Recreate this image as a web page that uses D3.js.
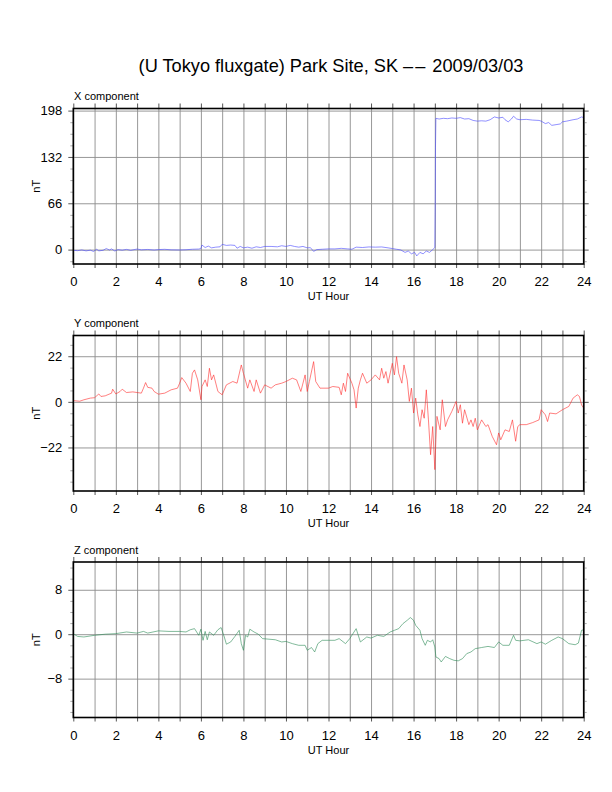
<!DOCTYPE html>
<html>
<head>
<meta charset="utf-8">
<script src="https://cdn.jsdelivr.net/npm/d3@7"></script>
<style>
  body { margin: 0; background: #fff; }
  svg { font-family: "Liberation Sans", Arial, sans-serif; }
</style>
</head>
<body>
<div id="graph"></div>
<script>
// Datos: [hora UT, nT]
const xComponent = [
  [0,-1],[0.2,-1.5],[0.4,-0.5],[0.6,-1.8],[0.8,-0.8],[0.95,-2.6],[1.1,0.5],[1.2,-1.8],[1.4,-1],[1.55,1.5],
  [1.7,-0.5],[1.8,1],[1.95,-2],[2.1,0],[2.3,-0.8],[2.5,0.3],[2.7,-1],[3.0,0.8],[3.2,-0.3],[3.5,0.2],
  [3.8,-0.6],[4.0,0],[4.3,0.4],[4.6,-0.3],[5.0,-0.5],[5.3,-0.2],[5.6,0.5],[5.9,0.8],[6.0,1.5],[6.05,6.5],
  [6.2,3],[6.35,5],[6.5,2.5],[6.7,3.5],[6.9,4],[7.0,7.5],[7.2,6],[7.4,6.5],[7.6,6],[7.7,2],
  [7.85,4.5],[8.0,2.5],[8.2,3.5],[8.4,2],[8.6,4],[8.8,3],[9.0,4.5],[9.3,4.5],[9.6,4],[9.8,5.5],
  [10.0,4.5],[10.2,6],[10.4,4.5],[10.6,3.5],[10.8,4.5],[11.0,2.5],[11.15,2.8],[11.3,-2.5],[11.45,0],[11.7,0.5],
  [12.0,1],[12.3,1],[12.6,1.8],[12.9,1],[13.1,0.5],[13.3,3.5],[13.6,3],[13.9,3.8],[14.2,3.5],[14.5,3.8],
  [14.8,2.5],[15.0,1.5],[15.2,0.5],[15.4,-0.5],[15.6,-4],[15.75,-2],[15.9,-6],[16.05,-4],[16.15,-9],[16.3,-4],
  [16.45,-6],[16.6,-2],[16.75,-4],[16.9,0],[17.0,3],[17.02,70],[17.03,145],[17.05,187],[17.2,186],[17.4,187],
  [17.6,186.5],[17.8,187.5],[18.0,187],[18.2,188],[18.4,186],[18.6,186.5],[18.8,184],[19.0,183],[19.2,183.5],[19.4,183],
  [19.6,185],[19.8,189],[20.0,187.5],[20.2,188.5],[20.3,185],[20.45,182],[20.6,186],[20.7,190],[20.85,186],[21.0,185],
  [21.3,185.5],[21.6,184.5],[21.9,184],[22.0,183],[22.2,179.5],[22.35,181],[22.5,177],[22.7,178],[22.9,179],[23.0,182],
  [23.2,183],[23.5,185],[23.7,186],[23.9,189],[24.0,188]
];

const yComponent = [
  [0,0.6],[0.3,0.3],[0.5,1],[0.8,1.8],[1.0,2],[1.2,3.8],[1.3,2.6],[1.5,2.9],[1.8,4.2],[1.85,6.1],
  [2.0,3.8],[2.2,5],[2.3,6.1],[2.5,4.5],[2.8,4.8],[3.0,4.5],[3.2,4.2],[3.3,6.6],[3.4,9.3],[3.5,7],
  [3.7,6.6],[3.8,5],[4.0,3.7],[4.3,4.2],[4.6,5.8],[4.9,6.6],[5.0,9],[5.1,11.7],[5.3,9],[5.5,5],
  [5.6,13.8],[5.7,15.4],[5.85,10.6],[6.0,1],[6.05,7.4],[6.2,10.6],[6.3,7.4],[6.4,16.2],[6.5,10.6],[6.6,13],
  [6.8,5],[7.0,3.4],[7.2,8.2],[7.5,9.8],[7.7,9],[7.9,17.8],[8.0,13.8],[8.2,6.6],[8.3,10.6],[8.5,5],
  [8.6,10.6],[8.8,4.2],[9.0,8.2],[9.3,6.6],[9.5,8.2],[9.8,9],[10.0,9.8],[10.3,11.4],[10.5,10.6],[10.7,5],
  [10.9,13],[11.0,5],[11.1,9.8],[11.3,19.4],[11.4,9.8],[11.6,6.6],[12.0,6.6],[12.2,7.4],[12.5,7],[12.6,3.4],
  [12.7,9],[12.8,5],[12.9,13.8],[13.1,9],[13.2,5.8],[13.3,-3],[13.4,6.6],[13.5,10.6],[13.6,13.8],[13.8,9],
  [14.0,10.6],[14.2,13],[14.4,10.6],[14.5,16.2],[14.6,11.4],[14.7,14.6],[14.8,9],[15.0,18.6],[15.1,13],[15.2,21.8],
  [15.3,13.8],[15.45,9],[15.55,17.8],[15.7,10.6],[15.8,0.2],[15.9,6.6],[16.0,-5.4],[16.1,1.8],[16.2,-6.3],[16.3,-11.9],
  [16.4,-3.8],[16.5,-7.9],[16.6,5.8],[16.7,-8.7],[16.8,-25.5],[16.9,-11.9],[17.0,-32.7],[17.05,-18.3],[17.1,-7],[17.25,-13.5],
  [17.35,1],[17.5,-11.9],[17.6,-8.7],[17.8,-4.6],[18.0,0.2],[18.1,-5.4],[18.2,-1.4],[18.3,-10.3],[18.4,-3.8],[18.6,-11],
  [18.7,-8.7],[18.8,-11.9],[18.9,-7.9],[19.0,-13.5],[19.2,-8.7],[19.4,-11.9],[19.5,-11],[19.7,-16.7],[19.9,-20.7],[20.0,-15],
  [20.1,-18.3],[20.3,-13.5],[20.5,-14.3],[20.65,-8.7],[20.8,-19],[20.9,-11.9],[21.0,-11],[21.3,-11],[21.6,-10],[21.9,-8.7],
  [22.0,-3.8],[22.2,-6.3],[22.3,-9.5],[22.4,-5.4],[22.7,-5.8],[23.0,-3.8],[23.3,-2.2],[23.5,1.8],[23.7,3.4],[23.8,2.6],
  [23.9,-1.5],[24.0,-3]
];

const zComponent = [
  [0,0.1],[0.2,-0.4],[0.5,-0.5],[1.0,-0.2],[1.5,0],[2.0,0.1],[2.5,0.4],[3.0,0.2],[3.3,0.5],[3.5,0.2],
  [4.0,0.6],[4.5,0.5],[5.0,0.5],[5.3,0.4],[5.5,0.8],[5.7,1.0],[5.9,-0.2],[6.0,0.9],[6.1,-1.1],[6.2,0.5],
  [6.3,-1.0],[6.4,0.4],[6.6,-0.2],[6.8,0.8],[6.95,1.2],[7.1,-0.5],[7.2,-1.8],[7.4,-1.4],[7.6,-0.4],[7.8,0.7],
  [7.9,-1.7],[8.0,-2.9],[8.1,-0.2],[8.2,-0.5],[8.3,0.9],[8.5,0.4],[8.7,0],[8.9,-0.8],[9.2,-0.9],[9.5,-1.0],
  [9.8,-1.4],[10.0,-1.3],[10.3,-1.7],[10.6,-2.0],[10.9,-2.0],[11.0,-2.9],[11.2,-2.4],[11.35,-3.2],[11.5,-1.7],[11.7,-1.1],
  [12.0,-1.1],[12.3,-1.1],[12.5,-0.8],[12.8,-1.7],[13.0,-0.8],[13.3,1.0],[13.5,-1.4],[13.8,-0.5],[14.0,-0.7],[14.3,-0.2],
  [14.6,-0.4],[14.9,0.4],[15.1,0.7],[15.3,1.0],[15.5,1.9],[15.7,2.5],[15.85,3.0],[16.0,2.5],[16.1,1.6],[16.3,0.7],
  [16.4,-0.8],[16.55,-2.0],[16.65,-1.1],[16.8,-1.4],[16.9,-1.0],[17.0,-2.3],[17.05,-4.1],[17.2,-4.4],[17.3,-5.0],[17.5,-4.0],
  [17.7,-4.4],[17.9,-4.7],[18.1,-4.8],[18.3,-4.4],[18.5,-3.5],[18.7,-3.2],[18.9,-2.6],[19.2,-2.4],[19.5,-2.2],[19.8,-2.4],
  [20.0,-1.4],[20.2,-2.0],[20.5,-2.0],[20.7,-0.2],[20.8,-1.1],[21.0,-1.2],[21.4,-1.0],[21.8,-1.7],[22.0,-1.4],[22.2,-1.8],
  [22.5,-1.1],[22.8,-0.5],[23.0,-0.8],[23.3,-1.7],[23.6,-1.9],[23.75,-1.6],[23.9,0.7],[24.0,0.8]
];

const titleParts = ["(U Tokyo fluxgate) Park Site, SK ", "––", " 2009/03/03"];
const componentNames = ["X component", "Y component", "Z component"];
const hourTicks = d3.range(0, 25);
const xMajors = [0, 66, 132, 198];
const yMajors = [-22, 0, 22];
const zMajors = [-8, 0, 8];
const xDomain = [-20.5, 201];
const yDomain = [-43, 32];
const zDomain = [-15, 13];

const width = 612, height = 792;
const left = 73.3, pw = 510.4, ph = 155.5;

const svg = d3.select("#graph").append("svg")
  .attr("width", width)
  .attr("height", height);
svg.append("rect").attr("width", width).attr("height", height).attr("fill", "#fff");

const title = svg.append("text")
  .attr("x", 331).attr("y", 71.5)
  .attr("text-anchor", "middle")
  .attr("font-size", 18.2);
titleParts.forEach((t, i) => {
  title.append("tspan").attr("letter-spacing", i === 1 ? 2 : null).text(t);
});

const x = d3.scaleLinear().domain([0, 24]).range([0, pw]);

const panels = [
  { name: componentNames[0], data: xComponent, domain: xDomain, majors: xMajors, minor: 16.5, color: "#4646ff", top: 108.5 },
  { name: componentNames[1], data: yComponent, domain: yDomain, majors: yMajors, minor: 5.5, color: "#ff2a2a", top: 335.5 },
  { name: componentNames[2], data: zComponent, domain: zDomain, majors: zMajors, minor: 2, color: "#2e8b57", top: 562 }
];

panels.forEach(p => {
  const y = d3.scaleLinear().domain(p.domain).range([ph, 0]);
  const minors = d3.range(Math.ceil(p.domain[0] / p.minor) * p.minor, p.domain[1], p.minor)
    .filter(v => !p.majors.includes(v));
  const g = svg.append("g").attr("transform", `translate(${left},${p.top})`);

  // rejilla
  g.append("g").attr("class", "grid")
    .call(d3.axisBottom(x).tickValues(hourTicks).tickSize(ph).tickFormat(""))
    .call(s => s.select(".domain").remove())
    .call(s => s.selectAll("line").attr("stroke", "#8c8c8c").attr("stroke-width", 0.9));
  g.append("g").attr("class", "grid")
    .call(d3.axisLeft(y).tickValues(p.majors).tickSize(-pw).tickFormat(""))
    .call(s => s.select(".domain").remove())
    .call(s => s.selectAll("line").attr("stroke", "#8c8c8c").attr("stroke-width", 0.9));

  // marcas menores
  [d3.axisLeft(y), d3.axisRight(y)].forEach((ax, i) => {
    g.append("g").attr("transform", `translate(${i ? pw : 0},0)`)
      .call(ax.tickValues(minors).tickSize(3).tickFormat(""))
      .call(s => s.select(".domain").remove())
      .call(s => s.selectAll("line").attr("stroke", "#aaa"));
  });

  // eje izquierdo con etiquetas
  g.append("g")
    .call(d3.axisLeft(y).tickValues(p.majors).tickSize(5).tickPadding(6))
    .call(s => s.select(".domain").remove())
    .call(s => s.selectAll("line").attr("stroke", "#555"))
    .call(s => s.selectAll("text").attr("font-size", 13).attr("font-family", "Liberation Sans").attr("fill", "#000"));
  g.append("g").attr("transform", `translate(${pw},0)`)
    .call(d3.axisRight(y).tickValues(p.majors).tickSize(5).tickFormat(""))
    .call(s => s.select(".domain").remove())
    .call(s => s.selectAll("line").attr("stroke", "#555"));

  // eje de horas
  g.append("g").attr("transform", `translate(0,${ph})`)
    .call(d3.axisBottom(x).tickValues(hourTicks).tickSize(4).tickPadding(8.8)
      .tickFormat(d => d % 2 === 0 ? d : ""))
    .call(s => s.select(".domain").remove())
    .call(s => s.selectAll("line").attr("stroke", "#555"))
    .call(s => s.selectAll("text").attr("font-size", 13).attr("font-family", "Liberation Sans").attr("fill", "#000"));
  g.append("g")
    .call(d3.axisTop(x).tickValues(hourTicks).tickSize(5).tickFormat(""))
    .call(s => s.select(".domain").remove())
    .call(s => s.selectAll("line").attr("stroke", "#555"));

  // serie
  const line = d3.line().x(d => x(d[0])).y(d => y(d[1]));
  g.append("path")
    .datum(p.data)
    .attr("d", line)
    .attr("fill", "none")
    .attr("stroke", p.color)
    .attr("stroke-width", 0.6);

  // marco
  g.append("rect")
    .attr("width", pw).attr("height", ph)
    .attr("fill", "none").attr("stroke", "#000").attr("stroke-width", 1.6);

  g.append("text").attr("x", 0.7).attr("y", -8.5)
    .attr("font-size", 11).text(p.name);
  g.append("text").attr("x", pw / 2).attr("y", ph + 36)
    .attr("text-anchor", "middle").attr("font-size", 11).text("UT Hour");
  g.append("text")
    .attr("transform", `translate(-33.3,${ph / 2}) rotate(-90)`)
    .attr("text-anchor", "middle").attr("font-size", 11).text("nT");
});
</script>
</body>
</html>
